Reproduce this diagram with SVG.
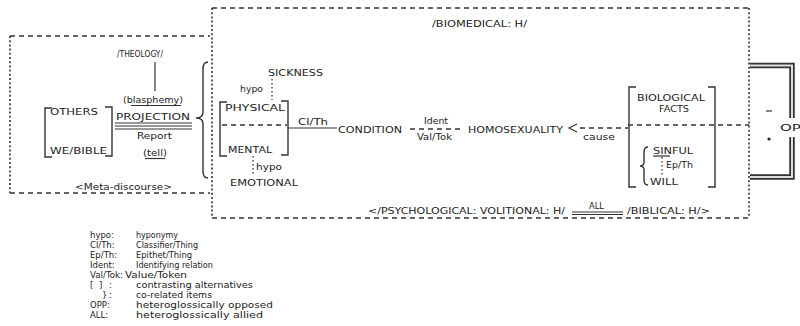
<svg xmlns="http://www.w3.org/2000/svg" width="800" height="326" viewBox="0 0 800 326">
<style>
text{font-family:"DejaVu Sans","Liberation Sans",sans-serif;fill:#222;font-size:9px}
.s{font-size:8.5px}
.lg{font-size:8.5px}
.dh{stroke:#333;stroke-width:1.4;fill:none;stroke-dasharray:5 4}
.dv{stroke:#333;stroke-width:1.6;fill:none;stroke-dasharray:2 2.2}
.dot{stroke:#333;stroke-width:1.3;fill:none;stroke-dasharray:1.5 2.5}
.ln{stroke:#333;stroke-width:1.2;fill:none}
.br{stroke:#333;stroke-width:1.4;fill:none}
</style>
<rect width="800" height="326" fill="#fff"/>

<g id="meta-box">
<path class="dh" d="M10,36 H210 M10,193 H210"/>
<path class="dv" d="M10,36 V193"/>
<text x="75" y="190" textLength="97" lengthAdjust="spacingAndGlyphs" class="s">&lt;Meta-discourse&gt;</text>
</g>

<g id="biomedical-box">
<path class="dh" d="M212,8 H749 M212,218 H749 M222,125 H287 M628,125 H749"/>
<path class="dv" d="M212,8 V218 M749,8 V218"/>
<text x="432" y="27" textLength="95" lengthAdjust="spacingAndGlyphs" class="s">/BIOMEDICAL: H/</text>
</g>

<g id="theology">
<text x="117" y="56.5" textLength="46" lengthAdjust="spacingAndGlyphs" class="s">/THEOLOGY/</text>
</g>

<g id="projection">
<text x="123" y="103" textLength="60" lengthAdjust="spacingAndGlyphs" class="s">(blasphemy)</text>
<path class="ln" d="M131,105.5 H181"/>
<text x="116" y="120" textLength="74" lengthAdjust="spacingAndGlyphs">PROJECTION</text>
<path class="ln" d="M115,123 H192 M115,126 H192 M115,129 H192"/>
<text x="137" y="139" textLength="35" lengthAdjust="spacingAndGlyphs" class="s">Report</text>
<text x="143" y="156" textLength="24" lengthAdjust="spacingAndGlyphs" class="s">(tell)</text>
<path class="ln" d="M145,158.5 H165"/>
</g>

<g id="others-we">
<path class="br" d="M52,108 H45 V157 H52 M105,107 H112 V156 H105"/>
<text x="50" y="114.5" textLength="48" lengthAdjust="spacingAndGlyphs">OTHERS</text>
<text x="50" y="153.5" textLength="57" lengthAdjust="spacingAndGlyphs">WE/BIBLE</text>
</g>

<g id="brace-left">
<path class="br" d="M208,62 Q203,62 203,69 L203,112 Q203,118 196,118 Q203,118 203,124 L203,171 Q203,178 208,178"/>
</g>

<g id="sickness">
<text x="268" y="75.5" textLength="55" lengthAdjust="spacingAndGlyphs">SICKNESS</text>
<text x="240" y="91.5" textLength="23" lengthAdjust="spacingAndGlyphs" class="s">hypo</text>
</g>

<g id="physical-mental">
<path class="br" d="M227,102 H220 V156 H227 M281,101 H288 V155 H281"/>
<text x="225" y="110.5" textLength="60" lengthAdjust="spacingAndGlyphs">PHYSICAL</text>
<text x="228" y="152.5" textLength="44" lengthAdjust="spacingAndGlyphs">MENTAL</text>
</g>

<g id="emotional">
<text x="256" y="169.5" textLength="26" lengthAdjust="spacingAndGlyphs" class="s">hypo</text>
<text x="230" y="185.5" textLength="68" lengthAdjust="spacingAndGlyphs">EMOTIONAL</text>
</g>

<g id="condition">
<text x="338" y="132.5" textLength="64" lengthAdjust="spacingAndGlyphs">CONDITION</text>
</g>

<g id="homosexuality">
<text x="468" y="132.5" textLength="95" lengthAdjust="spacingAndGlyphs">HOMOSEXUALITY</text>
</g>

<g id="biological-sinful">
<path class="br" d="M636,87 H629 V187 H636 M708,87 H715 V187 H708"/>
<text x="637" y="100.5" textLength="68" lengthAdjust="spacingAndGlyphs">BIOLOGICAL</text>
<text x="659" y="111.5" textLength="30" lengthAdjust="spacingAndGlyphs">FACTS</text>
<path class="br" d="M648,147 Q644,147 644,152 L644,162 Q644,166 640,166 Q644,166 644,170 L644,180 Q644,185 648,185"/>
<text x="653" y="153.5" textLength="40" lengthAdjust="spacingAndGlyphs">SINFUL</text>
<path class="ln" d="M653,156 H670"/>
<text x="666" y="168" textLength="27" lengthAdjust="spacingAndGlyphs" class="s">Ep/Th</text>
<text x="650" y="184.5" textLength="28" lengthAdjust="spacingAndGlyphs">WILL</text>
</g>

<g id="opp">
<path d="M750,65.5 H792 V118 M792,137 V177 H750" fill="none" stroke="#333" stroke-width="5.5"/>
<path d="M750,65.5 H792 V118 M792,137 V177 H750" fill="none" stroke="#ddd" stroke-width="2"/>
<path class="ln" d="M766,111 H772"/>
<circle cx="769" cy="139" r="1.6" fill="#222"/>
<text x="780" y="131" textLength="30" lengthAdjust="spacingAndGlyphs">OPP</text>
</g>

<g id="psych-biblical">
<text x="368" y="213.5" textLength="197" lengthAdjust="spacingAndGlyphs" class="s">&lt;/PSYCHOLOGICAL: VOLITIONAL: H/</text>
<text x="589" y="209" textLength="15" lengthAdjust="spacingAndGlyphs" class="s">ALL</text>
<path class="ln" d="M572,212 H623 M572,214.5 H623" stroke-width="1.3"/>
<text x="627" y="213.5" textLength="83" lengthAdjust="spacingAndGlyphs" class="s">/BIBLICAL: H/&gt;</text>
</g>

<g id="connectors">
<path class="ln" d="M155,62 V91" stroke-width="1.6"/>
<path class="dot" d="M272,79 V100"/>
<path class="dot" d="M253,156 V176"/>
<path class="dot" d="M662,157 V177"/>
<path class="ln" d="M288,128 H337"/>
<text x="298" y="125" textLength="30" lengthAdjust="spacingAndGlyphs" class="s">Cl/Th</text>
<path class="dh" d="M410,129 H464" stroke-dasharray="4 3.5"/>
<text x="424" y="124" textLength="24" lengthAdjust="spacingAndGlyphs" class="s">Ident</text>
<text x="417" y="140" textLength="35" lengthAdjust="spacingAndGlyphs" class="s">Val/Tok</text>
<path class="dh" d="M580,128 H628"/>
<path class="ln" d="M577,124 L569,128 L577,132" stroke-width="1.5"/>
<text x="583" y="139.5" textLength="32" lengthAdjust="spacingAndGlyphs" class="s">cause</text>
</g>

<g id="legend">
<text x="90" y="238" class="lg">hypo:</text><text x="136" y="238" textLength="42" lengthAdjust="spacingAndGlyphs" class="lg">hyponymy</text>
<text x="90" y="248" class="lg">Cl/Th:</text><text x="136" y="248" textLength="62" lengthAdjust="spacingAndGlyphs" class="lg">Classifier/Thing</text>
<text x="90" y="258" class="lg">Ep/Th:</text><text x="136" y="258" textLength="56" lengthAdjust="spacingAndGlyphs" class="lg">Epithet/Thing</text>
<text x="90" y="268" class="lg">Ident:</text><text x="136" y="268" textLength="77" lengthAdjust="spacingAndGlyphs" class="lg">Identifying relation</text>
<text x="90" y="278" textLength="33" lengthAdjust="spacingAndGlyphs" class="lg">Val/Tok:</text><text x="125" y="278" textLength="62" lengthAdjust="spacingAndGlyphs" class="lg">Value/Token</text>
<text x="90" y="288" class="lg">[</text><text x="99" y="288" class="lg">]</text><text x="109" y="288" class="lg">:</text><text x="136" y="288" textLength="117" lengthAdjust="spacingAndGlyphs" class="lg">contrasting alternatives</text>
<text x="102" y="298" class="lg">}</text><text x="109" y="298" class="lg">:</text><text x="136" y="298" textLength="76" lengthAdjust="spacingAndGlyphs" class="lg">co-related items</text>
<text x="90" y="308" class="lg">OPP:</text><text x="136" y="308" textLength="137" lengthAdjust="spacingAndGlyphs" class="lg">heteroglossically opposed</text>
<text x="90" y="318" class="lg">ALL:</text><text x="136" y="318" textLength="127" lengthAdjust="spacingAndGlyphs" class="lg">heteroglossically allied</text>
</g>
</svg>
